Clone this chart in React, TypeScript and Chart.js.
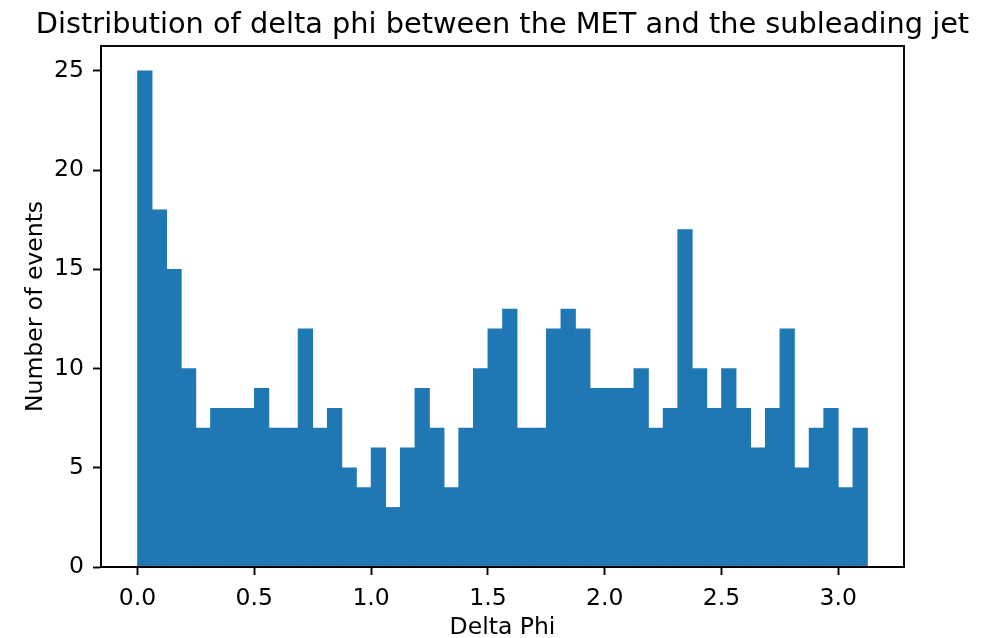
import React, { useEffect, useRef } from "react";
import { Chart, registerables } from "chart.js";

Chart.register(...registerables);

// Histogram counts (50 bins from 0 to ~pi)
const counts: number[] = [
  25, 18, 15, 10, 7, 8, 8, 8, 9, 7,
  7, 12, 7, 8, 5, 4, 6, 3, 6, 9,
  7, 4, 7, 10, 12, 13, 7, 7, 12, 13,
  12, 9, 9, 9, 10, 7, 8, 17, 10, 8,
  10, 8, 6, 8, 12, 5, 7, 8, 4, 7,
];
const binMin = 0;
const binMax = 3.125;
const xTicks: number[] = [0, 0.5, 1.0, 1.5, 2.0, 2.5, 3.0];
const yTicks: number[] = [0, 5, 10, 15, 20, 25];

const titleText = "Distribution of delta phi between the MET and the subleading jet";
const xLabel = "Delta Phi";
const yLabel = "Number of events";

const FONT = "'DejaVu Sans', sans-serif";
const TICK_SIZE = 23.5;

export default function App() {
  const ref = useRef<HTMLCanvasElement | null>(null);

  useEffect(() => {
    document.body.style.margin = "0";
    const canvas = ref.current;
    if (!canvas) return;
    const binW = (binMax - binMin) / counts.length;
    const points = counts.map((c, i) => ({ x: binMin + (i + 0.5) * binW, y: c }));
    const span = binMax - binMin;
    const yMax = Math.max(...counts) * 1.05;

    const decor = {
      id: "decor",
      afterDraw(chart: any) {
        const { ctx, chartArea } = chart;
        const { left, right, top, bottom } = chartArea;
        ctx.save();
        ctx.strokeStyle = "#000";
        ctx.lineWidth = 1.9;
        ctx.strokeRect(left, top, right - left, bottom - top);
        ctx.fillStyle = "#000";
        ctx.textAlign = "center";
        ctx.textBaseline = "alphabetic";
        ctx.font = `28.8px ${FONT}`;
        ctx.fillText(titleText, (left + right) / 2, 33);
        ctx.font = `${TICK_SIZE}px ${FONT}`;
        ctx.fillText(xLabel, (left + right) / 2, 634);
        ctx.translate(41.5, (top + bottom) / 2);
        ctx.rotate(-Math.PI / 2);
        ctx.fillText(yLabel, 0, 0);
        ctx.restore();
      },
    };

    const chart = new Chart(canvas, {
      type: "bar",
      data: {
        datasets: [
          {
            data: points as any,
            backgroundColor: "#1f77b4",
            borderWidth: 0,
            barPercentage: 1,
            categoryPercentage: 1,
          },
        ],
      },
      options: {
        animation: false,
        responsive: false,
        maintainAspectRatio: false,
        layout: { padding: { left: 0, right: 84, top: 46, bottom: 0 } },
        plugins: {
          legend: { display: false },
          tooltip: { enabled: false },
          title: { display: false },
        },
        scales: {
          x: {
            type: "linear",
            offset: false,
            min: binMin - span * 0.05,
            max: binMax + span * 0.05,
            afterBuildTicks: (scale: any) => {
              scale.ticks = xTicks.map((v) => ({ value: v }));
            },
            afterFit: (scale: any) => {
              scale.height = 71;
            },
            grid: {
              offset: false,
              drawOnChartArea: false,
              drawTicks: true,
              tickLength: 8,
              tickColor: "#000",
              tickWidth: 1.9,
            },
            border: { display: true, color: "#000", width: 1.9 },
            ticks: {
              color: "#000",
              font: { family: FONT, size: TICK_SIZE },
              padding: 10,
              maxRotation: 0,
              autoSkip: false,
              callback: (v: any) => Number(v).toFixed(1),
            },
          },
          y: {
            type: "linear",
            min: 0,
            max: yMax,
            afterBuildTicks: (scale: any) => {
              scale.ticks = yTicks.map((v) => ({ value: v }));
            },
            afterFit: (scale: any) => {
              scale.width = 101;
            },
            grid: {
              drawOnChartArea: false,
              drawTicks: true,
              tickLength: 8,
              tickColor: "#000",
              tickWidth: 1.9,
            },
            border: { display: true, color: "#000", width: 1.9 },
            ticks: {
              color: "#000",
              font: { family: FONT, size: TICK_SIZE },
              padding: 9,
              autoSkip: false,
              callback: (v: any) => String(v),
            },
          },
        },
      },
      plugins: [decor],
    });
    return () => chart.destroy();
  }, []);

  return (
    <div style={{ width: 988, height: 638 }}>
      <canvas ref={ref} width={988} height={638} style={{ width: 988, height: 638 }} />
    </div>
  );
}
